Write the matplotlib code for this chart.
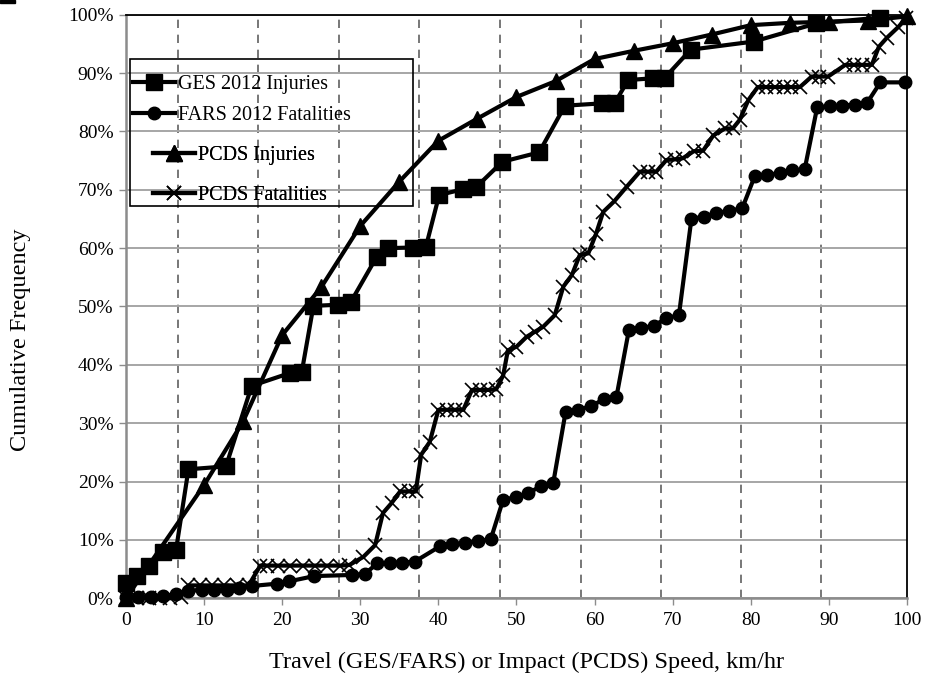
import matplotlib
matplotlib.use('Agg')
import matplotlib.pyplot as plt
from matplotlib.patches import Rectangle

plt.rcParams['font.family'] = ['Liberation Serif', 'DejaVu Serif']

# ---------------- data ----------------
ges_x = [0.0, 1.4, 3.0, 4.7, 6.4, 8.0, 12.8, 16.1, 21.0, 22.5, 24.0, 27.2, 28.8,
         32.1, 33.6, 36.8, 38.4, 40.1, 43.2, 44.8, 48.2, 52.9, 56.2, 60.9, 62.6,
         64.3, 67.5, 69.0, 72.3, 80.4, 88.4, 96.5]
ges_y = [2.7, 3.8, 5.5, 7.9, 8.2, 22.1, 22.6, 36.4, 38.6, 38.7, 50.1, 50.3, 50.8,
         58.5, 60.0, 60.1, 60.2, 69.1, 70.1, 70.4, 74.8, 76.4, 84.4, 84.8, 84.9,
         88.8, 89.1, 89.2, 94.0, 95.4, 98.5, 99.5]

fars_x = [0.0, 1.6, 3.2, 4.8, 6.4, 8.0, 9.7, 11.3, 12.9, 14.5, 16.1, 19.3, 20.9,
          24.1, 29.0, 30.6, 32.2, 33.8, 35.4, 37.0, 40.2, 41.8, 43.4, 45.1, 46.7,
          48.3, 49.9, 51.5, 53.1, 54.7, 56.3, 57.9, 59.5, 61.2, 62.8, 64.4, 66.0,
          67.6, 69.2, 70.8, 72.4, 74.0, 75.6, 77.2, 78.9, 80.5, 82.1, 83.7, 85.3,
          86.9, 88.5, 90.1, 91.7, 93.3, 94.9, 96.6, 99.8]
fars_y = [0.2, 0.3, 0.3, 0.4, 0.7, 1.3, 1.4, 1.4, 1.4, 1.7, 2.1, 2.5, 2.9,
          3.8, 4.0, 4.2, 6.0, 6.1, 6.1, 6.3, 8.9, 9.3, 9.5, 9.8, 10.1,
          16.9, 17.3, 18.0, 19.2, 19.7, 32.0, 32.3, 32.9, 34.1, 34.5, 46.0, 46.3,
          46.7, 48.0, 48.5, 65.0, 65.4, 66.0, 66.4, 66.8, 72.3, 72.6, 72.8, 73.3,
          73.5, 84.1, 84.3, 84.4, 84.6, 84.9, 88.4, 88.4]

pinj_x = [0, 10, 15, 20, 25, 30, 35, 40, 45, 50, 55, 60, 65, 70, 75, 80, 85, 90, 95, 100]
pinj_y = [0.0, 19.4, 30.3, 45.1, 53.3, 63.8, 71.4, 78.4, 82.2, 85.9, 88.6, 92.4,
          93.8, 95.1, 96.6, 98.2, 98.6, 98.8, 99.0, 99.7]

pfat_x = [0.0, 1.4, 2.9, 4.4, 5.6, 7.0, 8.0, 9.5, 11.0, 12.6, 14.2, 15.7, 17.2,
          18.0, 19.5, 21.0, 22.7, 24.2, 25.7, 27.4, 28.6, 30.4, 31.9, 32.9, 34.0,
          35.1, 36.2, 37.1, 37.8, 38.9, 40.0, 41.1, 42.1, 43.2, 44.3, 45.3, 46.4,
          47.4, 48.3, 48.9, 50.0, 51.3, 52.4, 53.4, 54.9, 56.0, 57.1, 58.1, 59.2,
          60.2, 61.1, 62.5, 64.1, 65.8, 66.9, 67.9, 69.2, 70.3, 71.3, 72.7, 73.9,
          75.2, 76.7, 77.7, 78.6, 79.7, 80.9, 82.0, 83.1, 84.2, 85.2, 86.3, 87.8,
          88.8, 89.9, 92.1, 93.2, 94.3, 95.5, 96.4, 97.4, 98.9, 99.9]
pfat_y = [0.0, 0.0, 0.0, 0.0, 0.0, 0.2, 2.2, 2.2, 2.2, 2.2, 2.2, 2.2, 5.6,
          5.6, 5.6, 5.6, 5.6, 5.6, 5.6, 5.6, 5.7, 7.1, 9.1, 14.6, 16.3,
          18.3, 18.3, 18.3, 24.6, 26.8, 32.3, 32.3, 32.3, 32.3, 35.7, 35.7, 35.7,
          35.8, 38.2, 42.5, 43.1, 44.8, 45.7, 46.5, 48.5, 53.4, 55.4, 58.8, 59.1,
          62.5, 66.2, 68.0, 70.5, 73.1, 73.1, 73.1, 75.1, 75.2, 75.4, 76.6, 76.7,
          79.3, 80.5, 80.5, 82.0, 85.4, 87.6, 87.6, 87.6, 87.6, 87.6, 87.6, 89.4,
          89.4, 89.4, 91.4, 91.4, 91.4, 91.4, 94.5, 96.0, 97.9, 99.4]

labels = ['GES 2012 Injuries', 'FARS 2012 Fatalities', 'PCDS Injuries', 'PCDS Fatalities']

x_ticks = list(range(0, 101, 10))
y_ticks = list(range(0, 101, 10))
y_ticklabels = ['%d%%' % v for v in y_ticks]
dashed_x = [6.66, 16.95, 27.3, 37.5, 47.9, 58.3, 68.5, 78.7, 89.0]

# ---------------- figure ----------------
fig = plt.figure(figsize=(9.25, 6.79), dpi=100)
ax = fig.add_axes([0.1362, 0.1189, 0.8443, 0.8595])
ax.set_xlim(0, 100)
ax.set_ylim(0, 100)

ax.set_yticks(y_ticks)
ax.set_yticklabels(y_ticklabels)
ax.set_xticks(x_ticks)
ax.yaxis.grid(True, color='#a6a6a6', lw=1.4)
ax.set_axisbelow(True)
for xv in dashed_x:
    ax.axvline(xv, color='#606060', lw=1.2, ls=(0, (5, 4)), zorder=0.5)

for s in ['left', 'bottom']:
    ax.spines[s].set_color('#8c8c8c')
    ax.spines[s].set_linewidth(1.8)
for s in ['top', 'right']:
    ax.spines[s].set_color('black')
    ax.spines[s].set_linewidth(1.3)

ax.tick_params(axis='both', direction='out', length=5, width=1.0,
               color='#8c8c8c', labelsize=14, labelcolor='black')
ax.tick_params(axis='y', pad=4)
ax.tick_params(axis='x', pad=5)

lw = 3.0
l1, = ax.plot(ges_x, ges_y, color='black', lw=lw, marker='s', ms=11, clip_on=False, zorder=3)
l2, = ax.plot(fars_x, fars_y, color='black', lw=lw, marker='o', ms=9, clip_on=False, zorder=4)
l3, = ax.plot(pinj_x, pinj_y, color='black', lw=lw, marker='^', ms=11, clip_on=False, zorder=5)
l4, = ax.plot(pfat_x, pfat_y, color='black', lw=lw, marker='x', ms=9.5, mew=1.2,
              clip_on=False, zorder=6)

ax.set_xlabel('Travel (GES/FARS) or Impact (PCDS) Speed, km/hr', fontsize=17.5)
ax.set_ylabel('Cumulative Frequency', fontsize=17.5)
ax.xaxis.set_label_coords(0.513, -0.0914)
ax.yaxis.set_label_coords(-0.1216, 0.4426)

# legend (two blocks inside one frame, as in the reference)
leg_kw = dict(loc='upper left', frameon=False, handlelength=2.1, handletextpad=0.15,
              borderpad=0, borderaxespad=0, fontsize=14.5)
leg1 = ax.legend([l1, l2], labels[:2], bbox_to_anchor=(0.009, 0.8965),
                 labelspacing=0.6, **leg_kw)
ax.add_artist(leg1)
leg2 = ax.legend([l3, l4], labels[2:], bbox_to_anchor=(0.0346, 0.775),
                 labelspacing=1.05, **leg_kw)
ax.add_artist(leg2)
ax.add_patch(Rectangle((0.005, 0.672), 0.3625, 0.252, transform=ax.transAxes,
                       fill=False, edgecolor='black', lw=1.2, zorder=7, clip_on=False))

fig.add_artist(Rectangle((0, 1 - 3 / 679), 15 / 925, 3 / 679, transform=fig.transFigure,
                         color='black'))

fig.savefig('out.png', dpi=100)
